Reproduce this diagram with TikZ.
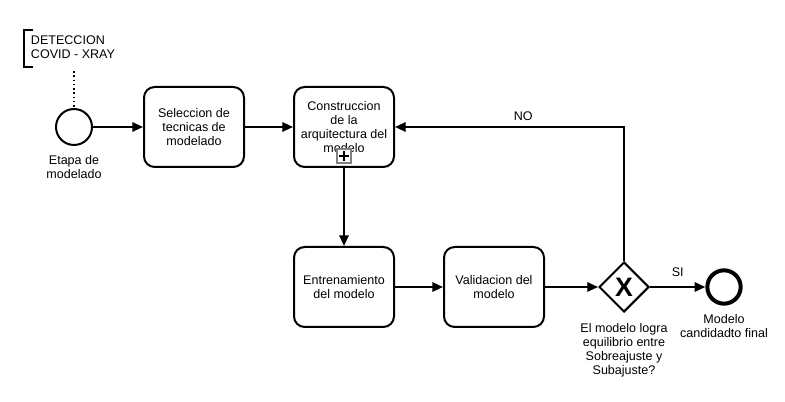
\documentclass[tikz,border=0pt]{standalone}
\usepackage{fontspec}
\setmainfont{Liberation Sans}
\usetikzlibrary{arrows.meta,shapes.geometric,positioning}

\begin{document}
\begin{tikzpicture}[x=0.75pt,y=-0.75pt,font=\fontsize{9.4}{10.6}\selectfont,line width=1.5pt]
\tikzset{task/.style={draw,rounded corners=8pt,minimum width=75pt,minimum height=60pt,align=center,inner sep=2pt},
         event/.style={draw,circle,minimum size=27pt,inner sep=0pt},
         endevent/.style={event,line width=3pt,minimum size=25pt},
         gate/.style={draw,diamond,minimum width=37.5pt,minimum height=37.5pt,inner sep=0pt,font=\fontsize{20}{20}\selectfont\bfseries},
         lbl/.style={align=center,inner sep=0pt},
         flow/.style={-{Triangle[length=8pt,width=7pt]}},
         marker/.style={draw=gray,line width=1.2pt,minimum size=10.5pt,inner sep=0pt,fill=white}}
    \useasboundingbox (0,0) rectangle (785,402);
    % events and tasks
    \node[event] (start) at (74,127) {};
    \node[lbl,below=6pt of start] (startlbl) {Etapa de\\modelado};
    \node[task] (select) at (194,127) {Seleccion de\\tecnicas de\\modelado};
    \node[task] (build) at (344,127) {Construccion\\de la\\arquitectura del\\modelo};
    \node[task] (train) at (344,287) {Entrenamiento\\del modelo};
    \node[task] (valid) at (494,287) {Validacion del\\modelo};
    \node[gate] (check) at (624,287) {X};
    \node[lbl,below=7pt of check] (checklbl) {El modelo logra\\equilibrio entre\\Sobreajuste y\\Subajuste?};
    \node[endevent] (final) at (724,287) {};
    \node[lbl,below=6pt of final] (finallbl) {Modelo\\candidadto final};
    % subprocess marker
    \node[marker] (plus) at (344,156) {};
    \draw[line width=1.2pt] ([yshift=-2.4pt]plus.north) -- ([yshift=2.4pt]plus.south)
                          ([xshift=2.4pt]plus.west) -- ([xshift=-2.4pt]plus.east);
    % annotation
    \node[lbl,anchor=west,align=left] (note) at (30,47) {DETECCION\\COVID - XRAY};
    \draw (33,30) -- (24,30) -- (24,67) -- (33,67);
    \coordinate (noteend) at (74,71);
    \draw[dotted,line width=1.2pt] (noteend) -- (start.north);
    % flows
    \draw[flow] (start) -- (select);
    \draw[flow] (select) -- (build);
    \draw[flow] (build) -- (train);
    \draw[flow] (train) -- (valid);
    \draw[flow] (valid) -- (check);
    \draw[flow] (check) -- node[above=4pt] {SI} (final);
    \draw[flow] (check.north) |- node[pos=0.72,above=1pt] {NO} (build.east);
\end{tikzpicture}
\end{document}
